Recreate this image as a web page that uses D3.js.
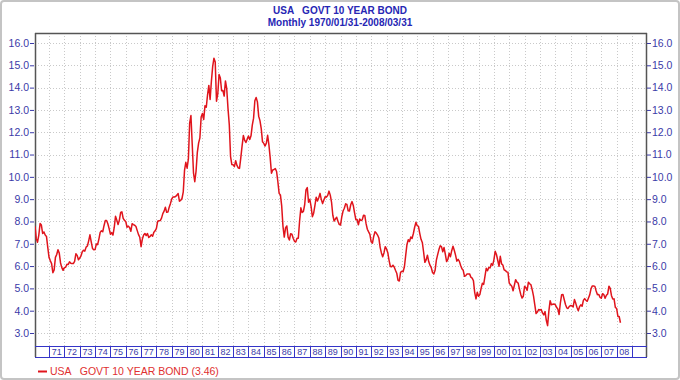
<!DOCTYPE html>
<html>
<head>
<meta charset="utf-8">
<script src="https://cdn.jsdelivr.net/npm/d3@7"></script>
<style>
  html, body { margin: 0; padding: 0; background: #fff; }
  svg { display: block; font-family: "Liberation Sans", Arial, sans-serif; }
</style>
</head>
<body>
<svg id="chart" width="680" height="380"></svg>
<script>
// ---- DATA (month-end yields, %) ----
const startYear = 1970;
const yields1970s = [
  7.79,7.24,7.07,7.39,7.91,7.84,7.46,7.53,7.39,7.33,6.84,6.39,
  6.24,6.11,5.70,5.83,6.39,6.52,6.73,6.58,6.14,5.93,5.81,5.93,
  5.95,6.08,6.07,6.19,6.13,6.11,6.11,6.21,6.55,6.48,6.28,6.36,
  6.46,6.64,6.71,6.67,6.85,6.90,7.13,7.40,7.09,6.79,6.73,6.74,
  6.99,6.96,7.21,7.51,7.58,7.54,7.81,8.04,8.04,7.90,7.68,7.43,
  7.50,7.39,7.73,8.23,8.06,7.86,8.06,8.40,8.43,8.14,8.05,8.00,
  7.74,7.79,7.73,7.56,7.90,7.86,7.83,7.77,7.59,7.41,7.29,6.87,
  7.21,7.39,7.46,7.37,7.46,7.28,7.33,7.40,7.34,7.52,7.58,7.69,
  8.01,8.03,8.04,8.15,8.35,8.46,8.64,8.41,8.42,8.64,8.81,9.01,
  9.10,9.10,9.12,9.18,9.25,8.91,8.95,9.03,9.33,10.30,10.65,10.39
];
const yields1980s = [
  10.80,12.41,12.75,11.47,10.18,9.78,10.25,11.10,11.51,11.75,12.68,12.84,
  12.57,13.19,13.12,13.68,14.10,13.47,14.28,14.94,15.32,15.15,13.39,13.72,
  14.59,14.43,13.86,13.87,13.62,14.30,13.95,13.06,12.34,10.91,10.55,10.54,
  10.46,10.72,10.51,10.40,10.38,10.85,11.38,11.85,11.65,11.54,11.69,11.83,
  11.67,11.84,12.32,12.63,13.41,13.56,13.36,12.72,12.52,12.16,11.57,11.50,
  11.38,11.51,11.86,11.43,10.85,10.16,10.31,10.33,10.37,10.24,9.78,9.26,
  9.19,8.70,7.78,7.30,7.71,7.80,7.30,7.17,7.45,7.43,7.25,7.11,
  7.08,7.25,7.25,8.02,8.61,8.40,8.45,8.76,9.42,9.52,8.86,8.99,
  8.67,8.21,8.37,8.72,9.09,8.92,9.06,9.26,8.98,8.80,8.96,9.11,
  9.09,9.17,9.36,9.18,8.86,8.28,8.02,8.11,8.19,8.01,7.87,7.84
];
const yields1990s = [
  8.21,8.47,8.59,8.79,8.76,8.48,8.47,8.75,8.89,8.72,8.39,8.08,
  8.09,7.85,8.11,8.04,8.07,8.28,8.27,7.90,7.65,7.53,7.42,7.09,
  7.03,7.34,7.54,7.48,7.39,7.26,6.84,6.59,6.42,6.59,6.87,6.77,
  6.60,6.26,5.98,5.97,6.04,5.96,5.81,5.68,5.36,5.33,5.72,5.77,
  5.75,5.97,6.48,6.97,7.18,7.10,7.30,7.24,7.46,7.74,7.96,7.81,
  7.78,7.47,7.20,7.06,6.63,6.17,6.28,6.49,6.20,6.04,5.93,5.71,
  5.65,5.81,6.27,6.51,6.74,6.91,6.87,6.64,6.83,6.53,6.20,6.30,
  6.58,6.42,6.69,6.89,6.71,6.49,6.22,6.30,6.21,6.03,5.88,5.81,
  5.54,5.57,5.65,5.64,5.65,5.50,5.46,5.34,4.81,4.53,4.83,4.65,
  4.72,5.00,5.23,5.18,5.54,5.90,5.79,5.94,5.92,6.11,6.03,6.28
];
const yields2000s = [
  6.66,6.52,6.26,5.99,6.44,6.10,6.05,5.83,5.80,5.74,5.72,5.24,
  5.16,5.10,4.89,5.14,5.39,5.28,5.24,4.97,4.73,4.57,4.65,5.09,
  5.04,4.91,5.28,5.21,5.16,4.93,4.65,4.26,3.87,3.94,4.05,4.03,
  4.05,3.90,3.81,3.96,3.57,3.33,3.98,4.45,4.27,4.29,4.30,4.27,
  4.15,4.08,3.83,4.35,4.72,4.73,4.50,4.28,4.13,4.10,4.19,4.23,
  4.22,4.17,4.50,4.34,4.14,4.00,4.18,4.26,4.20,4.46,4.54,4.47,
  4.42,4.57,4.72,4.99,5.11,5.11,5.09,4.88,4.72,4.73,4.60,4.56,
  4.76,4.72,4.56,4.69,4.75,5.10,5.00,4.67,4.52,4.53,4.15,4.10,
  3.74,3.74,3.46
];
const yTicks = [3,4,5,6,7,8,9,10,11,12,13,14,15,16];
const yearLabels = ["71","72","73","74","75","76","77","78","79","80","81","82","83","84","85","86","87","88","89",
                    "90","91","92","93","94","95","96","97","98","99","00","01","02","03","04","05","06","07","08"];
const seriesName = "USA   GOVT 10 YEAR BOND";
const lastValue = "3.46";
const titleText = "USA   GOVT 10 YEAR BOND";
const subtitleText = "Monthly 1970/01/31-2008/03/31";

// ---- BUILD ----
const monthly = [].concat(yields1970s, yields1980s, yields1990s, yields2000s);
const data = monthly.map((v, i) => ({ t: startYear + (i + 1) / 12, v }));

const svg = d3.select("#chart");
const W = 680, H = 380;
const plotL = 35, plotR = 647, plotT = 33, bandT = 346, bandB = 357;

const x = d3.scaleLinear().domain([1970, 2010]).range([33.7, 647.3]);
const y = d3.scaleLinear().domain([3, 16]).range([333, 43]);

const blue = "#3a3aa8";
const red = "#e0141c";

// outer frame
svg.append("rect").attr("x", 1).attr("y", 1).attr("width", W - 2).attr("height", H - 2)
  .attr("rx", 3).attr("fill", "#fff").attr("stroke", "#c4c4c4").attr("stroke-width", 2);

// title
svg.append("text").attr("x", 340).attr("y", 14).attr("text-anchor", "middle")
  .attr("font-size", 10).attr("font-weight", "bold").attr("fill", "#2626b4")
  .style("white-space", "pre").text(titleText);
svg.append("text").attr("x", 340).attr("y", 26).attr("text-anchor", "middle")
  .attr("font-size", 10).attr("font-weight", "bold").attr("fill", "#2626b4")
  .style("white-space", "pre").text(subtitleText);

// grid
const grid = svg.append("g").attr("stroke", "#c9c9c9").attr("stroke-width", 1).attr("stroke-dasharray", "1,2");
yTicks.forEach(t => {
  grid.append("line").attr("x1", plotL).attr("x2", plotR).attr("y1", Math.round(y(t)) + 0.5).attr("y2", Math.round(y(t)) + 0.5);
});
d3.range(1971, 2010).forEach(yr => {
  const xx = Math.round(x(yr)) + 0.5;
  grid.append("line").attr("x1", xx).attr("x2", xx).attr("y1", plotT).attr("y2", bandT);
});

// plot frame
svg.append("line").attr("x1", plotL).attr("x2", plotR).attr("y1", plotT + 0.5).attr("y2", plotT + 0.5)
  .attr("stroke", "#555").attr("stroke-width", 1.5);
svg.append("line").attr("x1", plotL + 0.5).attr("x2", plotL + 0.5).attr("y1", plotT).attr("y2", bandB)
  .attr("stroke", "#555").attr("stroke-width", 1.5);
svg.append("line").attr("x1", plotR - 0.5).attr("x2", plotR - 0.5).attr("y1", plotT).attr("y2", bandB)
  .attr("stroke", "#555").attr("stroke-width", 1.5);

// year band
const band = svg.append("g");
band.append("line").attr("x1", plotL).attr("x2", plotR).attr("y1", bandT + 0.5).attr("y2", bandT + 0.5).attr("stroke", "#3434c8");
band.append("line").attr("x1", plotL).attr("x2", plotR).attr("y1", bandB + 0.5).attr("y2", bandB + 0.5).attr("stroke", "#3434c8");
d3.range(1971, 2010).forEach(yr => {
  const xx = Math.round(x(yr)) + 0.5;
  band.append("line").attr("x1", xx).attr("x2", xx).attr("y1", bandT).attr("y2", bandB).attr("stroke", "#3434c8");
});
yearLabels.forEach((lab, i) => {
  const yr = 1971 + i;
  band.append("text").attr("x", x(yr + 0.5)).attr("y", bandB - 2).attr("text-anchor", "middle")
    .attr("font-size", 9).attr("fill", blue).text(lab);
});

// axes
const fmt = d3.format(".1f");
const leftAxis = svg.append("g").attr("transform", `translate(${plotL - 1},0)`)
  .call(d3.axisLeft(y).tickValues(yTicks).tickFormat(fmt).tickSize(4).tickPadding(1));
const rightAxis = svg.append("g").attr("transform", `translate(${plotR},0)`)
  .call(d3.axisRight(y).tickValues(yTicks).tickFormat(fmt).tickSize(4).tickPadding(1));
[leftAxis, rightAxis].forEach(a => {
  a.select(".domain").remove();
  a.selectAll(".tick line").attr("stroke", blue);
  a.selectAll(".tick text").attr("fill", blue).attr("font-size", 10.5)
    .attr("font-family", "'Liberation Sans', Arial, sans-serif");
});

// line
svg.append("clipPath").attr("id", "clip").append("rect")
  .attr("x", plotL).attr("y", plotT).attr("width", plotR - plotL).attr("height", bandT - plotT);
svg.append("path").datum(data)
  .attr("clip-path", "url(#clip)")
  .attr("fill", "none").attr("stroke", red).attr("stroke-width", 1.5).attr("stroke-linejoin", "round")
  .attr("d", d3.line().x(d => x(d.t)).y(d => y(d.v)));

// legend
svg.append("line").attr("x1", 38).attr("x2", 47).attr("y1", 371.5).attr("y2", 371.5)
  .attr("stroke", red).attr("stroke-width", 2);
svg.append("text").attr("x", 50).attr("y", 375).attr("font-size", 10.5).attr("fill", "#e03030")
  .style("white-space", "pre").text(`${seriesName} (${lastValue})`);
</script>
</body>
</html>
